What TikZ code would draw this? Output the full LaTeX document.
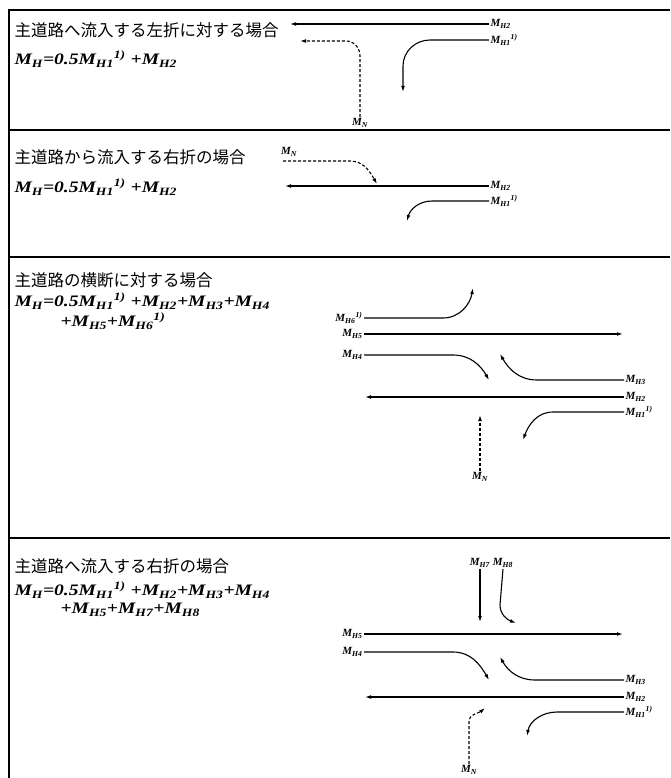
\documentclass[tikz,border=0pt]{standalone}
\usepackage{fontspec}
\setmainfont{Liberation Serif}
\newfontfamily\jpfont{Noto Sans CJK JP}
\newfontfamily\fmfont[FakeStretch=1.22]{Liberation Serif}
\usetikzlibrary{arrows.meta}

\newcommand{\Msub}[1]{M\textsubscript{#1}}

\begin{document}
\begin{tikzpicture}[x=1pt,y=-1pt,line width=1.1pt]
   \tikzset{ttl/.style={anchor=west, inner sep=0pt, font=\jpfont\fontsize{16.5}{18}\selectfont},
     formula/.style={anchor=west, inner sep=0pt, font=\fmfont\bfseries\itshape\fontsize{16}{18}\selectfont},
     lbl/.style={inner sep=1pt, font=\bfseries\itshape\fontsize{11}{12}\selectfont},
     flow/.style={-{Latex[length=6pt,width=3.8pt]}},
     dflow/.style={flow, dash pattern=on 3pt off 2pt},
     boxline/.style={line width=1.5pt}};
\useasboundingbox (0,0) rectangle (670,778);

% frame
\draw[boxline] (670,10) -- (9,10) -- (9,778);
\draw[boxline] (9,130) -- (670,130);
\draw[boxline] (9,257) -- (670,257);
\draw[boxline] (9,538) -- (670,538);

% panel 1
\node[ttl] (t1) at (14,30) {主道路へ流入する左折に対する場合};
\node[formula] (f1) at (14,59) {\Msub{H}=0.5\Msub{H1}\textsuperscript{1)} +\Msub{H2}};
\node[lbl,anchor=west] (a2) at (489,24) {\Msub{H2}};
\node[lbl,anchor=west] (a1) at (489,40) {\Msub{H1}\textsuperscript{1)}};
\node[lbl] (an) at (360,123) {\Msub{N}};
\coordinate (a2e) at (290,24);
\coordinate (a1e) at (403,92);
\coordinate (ane) at (300,41);

\draw[flow] (a2.west) -- (a2e);
\draw[flow] (a1.west) -- (430,40) to[out=180,in=90] (403,66) -- (a1e);
\draw[dflow] (an.north) -- (360,56) to[out=90,in=0] (346,41) -- (ane);

% panel 2
\node[ttl] (t2) at (14,157) {主道路から流入する右折の場合};
\node[formula] (f2) at (14,187) {\Msub{H}=0.5\Msub{H1}\textsuperscript{1)} +\Msub{H2}};
\node[lbl] (bn) at (289,152) {\Msub{N}};
\node[lbl,anchor=west] (b2) at (489,186) {\Msub{H2}};
\node[lbl,anchor=west] (b1) at (489,201) {\Msub{H1}\textsuperscript{1)}};
\coordinate (bns) at (283,161);
\coordinate (bne) at (377,184);
\coordinate (b2e) at (285,186);
\coordinate (b1e) at (407,221);

\draw[dflow] (bns) -- (350,161) to[out=0,in=120] (bne);
\draw[flow] (b2.west) -- (b2e);
\draw[flow] (b1.west) -- (432,201) to[out=180,in=75] (b1e);

% panel 3
\node[ttl] (t3) at (14,280) {主道路の横断に対する場合};
\node[formula] (f3) at (14,301) {\Msub{H}=0.5\Msub{H1}\textsuperscript{1)} +\Msub{H2}+\Msub{H3}+\Msub{H4}};
\node[formula] (g3) at (60,321) {+\Msub{H5}+\Msub{H6}\textsuperscript{1)}};
\node[lbl,anchor=east] (c6) at (364,318) {\Msub{H6}\textsuperscript{1)}};
\node[lbl,anchor=east] (c5) at (364,334) {\Msub{H5}};
\node[lbl,anchor=east] (c4) at (364,355) {\Msub{H4}};
\node[lbl,anchor=west] (c3) at (624,380) {\Msub{H3}};
\node[lbl,anchor=west] (c2) at (624,397) {\Msub{H2}};
\node[lbl,anchor=west] (c1) at (624,412) {\Msub{H1}\textsuperscript{1)}};
\node[lbl] (cn) at (480,477) {\Msub{N}};
\coordinate (c6e) at (473,288);
\coordinate (c5e) at (623,334);
\coordinate (c4e) at (489,380);
\coordinate (c3e) at (500,354);
\coordinate (c2e) at (365,397);
\coordinate (c1e) at (523,440);
\coordinate (cne) at (480,415);

\draw[flow] (c6.east) -- (443,318) to[out=0,in=-100] (c6e);
\draw[flow] (c5.east) -- (c5e);
\draw[flow] (c4.east) -- (453,355) to[out=0,in=120] (c4e);
\draw[flow] (c3.west) -- (537,380) to[out=180,in=-60] (c3e);
\draw[flow] (c2.west) -- (c2e);
\draw[flow] (c1.west) -- (553,412) to[out=180,in=70] (c1e);
\draw[dflow] (cn.north) -- (cne);

% panel 4
\node[ttl] (t4) at (14,566) {主道路へ流入する右折の場合};
\node[formula] (f4) at (14,590) {\Msub{H}=0.5\Msub{H1}\textsuperscript{1)} +\Msub{H2}+\Msub{H3}+\Msub{H4}};
\node[formula] (g4) at (60,610) {+\Msub{H5}+\Msub{H7}+\Msub{H8}};
\node[lbl] (d7) at (480,563) {\Msub{H7}};
\node[lbl] (d8) at (503,563) {\Msub{H8}};
\node[lbl,anchor=east] (d5) at (364,634) {\Msub{H5}};
\node[lbl,anchor=east] (d4) at (364,652) {\Msub{H4}};
\node[lbl,anchor=west] (d3) at (624,680) {\Msub{H3}};
\node[lbl,anchor=west] (d2) at (624,697) {\Msub{H2}};
\node[lbl,anchor=west] (d1) at (624,712) {\Msub{H1}\textsuperscript{1)}};
\node[lbl] (dn) at (469,770) {\Msub{N}};
\coordinate (d7e) at (480,622);
\coordinate (d8e) at (516,623);
\coordinate (d5e) at (623,634);
\coordinate (d4e) at (489,680);
\coordinate (d3e) at (500,657);
\coordinate (d2e) at (365,697);
\coordinate (d1e) at (527,736);
\coordinate (dne) at (485,708);

\draw[flow] (d7.south) -- (d7e);
\draw[flow] (d8.south) -- (500,605) to[out=-90,in=160] (d8e);
\draw[flow] (d5.east) -- (d5e);
\draw[flow] (d4.east) -- (453,652) to[out=0,in=120] (d4e);
\draw[flow] (d3.west) -- (535,680) to[out=180,in=-60] (d3e);
\draw[flow] (d2.west) -- (d2e);
\draw[flow] (d1.west) -- (557,712) to[out=180,in=80] (d1e);
\draw[dflow] (dn.north) -- (469,722) to[out=90,in=-140] (dne);

\end{tikzpicture}
\end{document}
